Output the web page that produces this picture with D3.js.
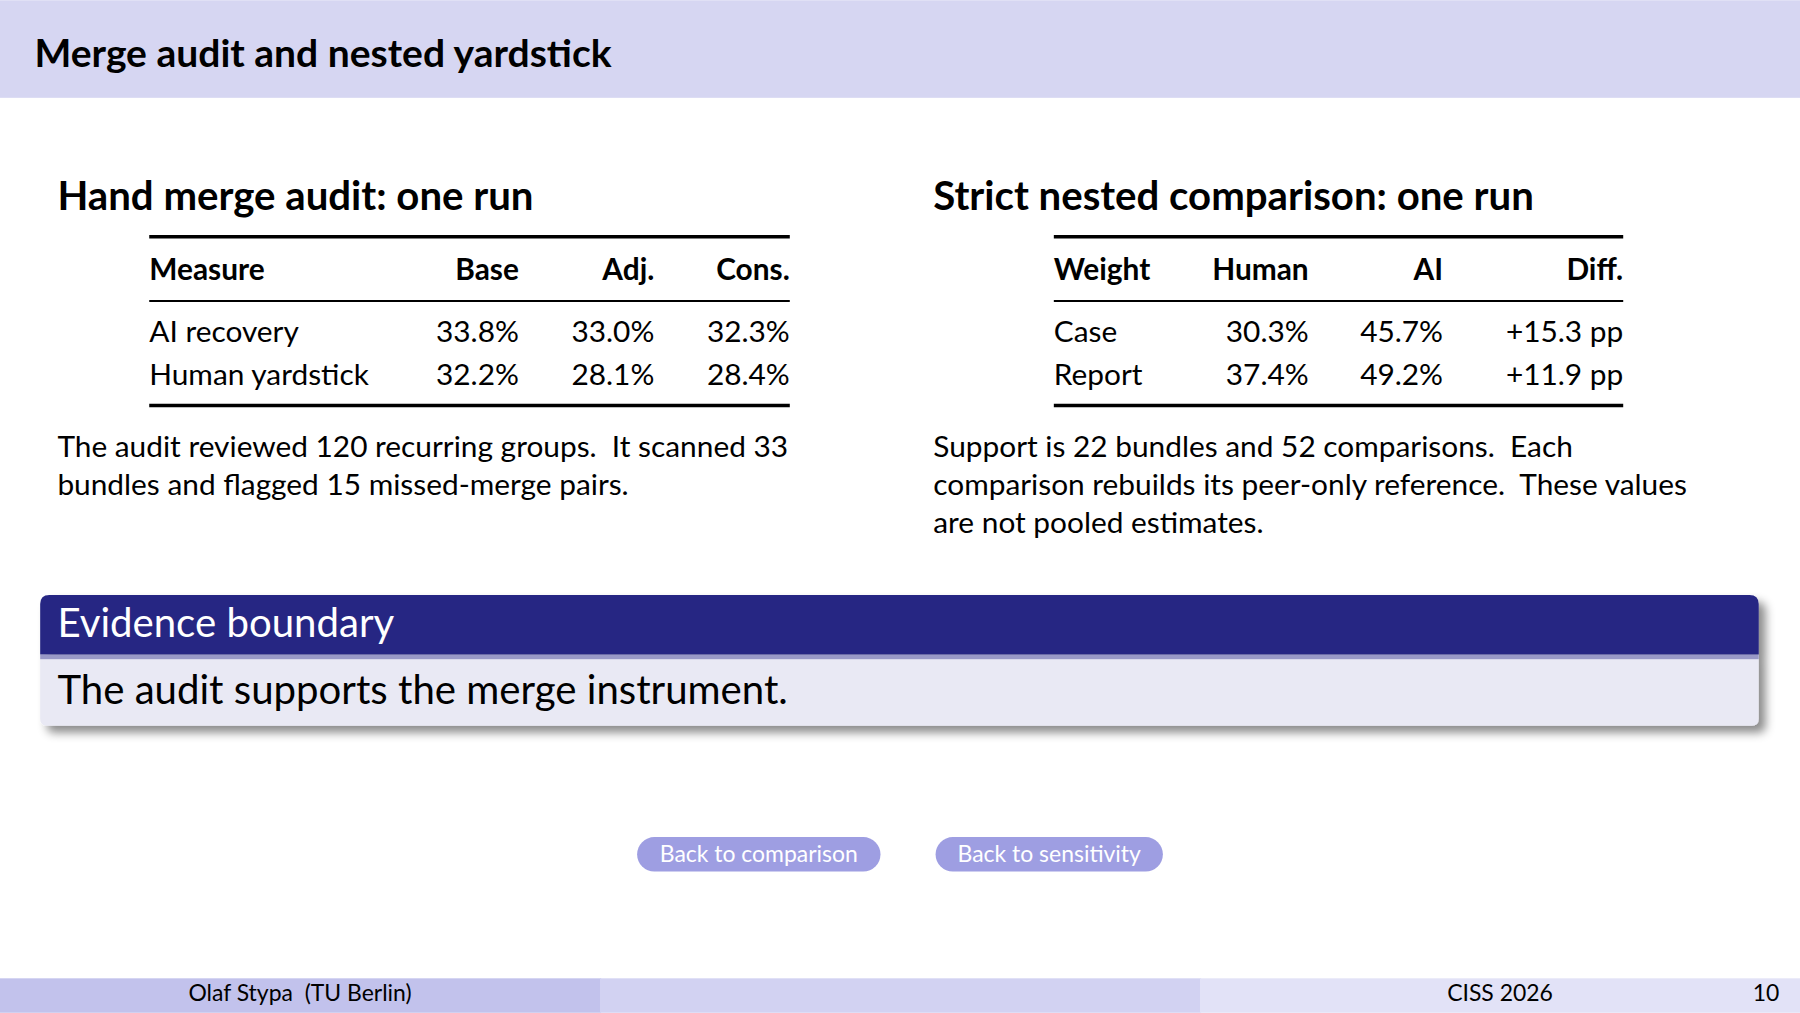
<!DOCTYPE html>
<html><head><meta charset="utf-8">
<script src="https://cdn.jsdelivr.net/npm/d3@7"></script>
<style>body{margin:0;background:#fff}svg{display:block;font-family:Lato,"DejaVu Sans",sans-serif}</style>
</head><body><svg id="s"></svg>
<script>
const leftCols = ["Measure", "Base", "Adj.", "Cons."];
const leftRows = [["AI recovery", "33.8%", "33.0%", "32.3%"], ["Human yardstick", "32.2%", "28.1%", "28.4%"]];
const rightCols = ["Weight", "Human", "AI", "Diff."];
const rightRows = [["Case", "30.3%", "45.7%", "+15.3 pp"], ["Report", "37.4%", "49.2%", "+11.9 pp"]];
const leftText = ["The audit reviewed 120 recurring groups.  It scanned 33", "bundles and flagged 15 missed-merge pairs."];
const rightText = ["Support is 22 bundles and 52 comparisons.  Each", "comparison rebuilds its peer-only reference.  These values", "are not pooled estimates."];
const buttons = ["Back to comparison", "Back to sensitivity"];
const footer = ["Olaf Stypa  (TU Berlin)", "", "CISS 2026"];

const W = 1568, H = 882;
const svg = d3.select("#s").attr("width", 1800).attr("height", 1013).attr("viewBox", `0 0 ${W} ${H}`);
const defs = svg.append("defs");
const f = defs.append("filter").attr("id", "sh").attr("x", "-5%").attr("y", "-20%").attr("width", "110%").attr("height", "150%");
f.append("feDropShadow").attr("dx", 6).attr("dy", 6).attr("stdDeviation", 4).attr("flood-color", "#000").attr("flood-opacity", 0.45);

svg.append("rect").attr("width", W).attr("height", 85).attr("fill", "#d6d6f2");
svg.append("text").attr("x", 30).attr("y", 58).attr("font-size", 34).attr("font-weight", "bold").attr("fill", "#000").text("Merge audit and nested yardstick");

function table(title, tx, x0, x1, colRight, cols, rows, para) {
  svg.append("text").attr("x", tx).attr("y", 183).attr("font-size", 35).attr("font-weight", "bold").text(title);
  const g = svg.append("g");
  g.append("line").attr("x1", x0).attr("x2", x1).attr("y1", 206).attr("y2", 206).attr("stroke", "#000").attr("stroke-width", 3);
  g.append("line").attr("x1", x0).attr("x2", x1).attr("y1", 262).attr("y2", 262).attr("stroke", "#000").attr("stroke-width", 1.8);
  g.append("line").attr("x1", x0).attr("x2", x1).attr("y1", 353).attr("y2", 353).attr("stroke", "#000").attr("stroke-width", 3);
  const xs = [x0].concat(colRight);
  const anchor = i => i === 0 ? "start" : "end";
  g.selectAll(".h").data(cols).join("text").attr("x", (d, i) => xs[i]).attr("y", 244)
    .attr("text-anchor", (d, i) => anchor(i)).attr("font-size", 26).attr("font-weight", "bold").text(d => d);
  const y = d3.scalePoint().domain(rows.map((r, i) => i)).range([298, 335]);
  rows.forEach((r, ri) => {
    g.selectAll(null).data(r).join("text").attr("x", (d, i) => xs[i]).attr("y", y(ri))
      .attr("text-anchor", (d, i) => anchor(i)).attr("font-size", 26).text(d => d);
  });
  svg.selectAll(null).data(para).join("text").attr("x", tx).attr("y", (d, i) => 398 + i * 33)
    .attr("font-size", 26).attr("xml:space", "preserve").text(d => d);
}
table("Hand merge audit:  one run", 50, 130, 688, [452, 570, 688], leftCols, leftRows, leftText);
table("Strict nested comparison:  one run", 813, 918, 1414, [1140, 1257, 1414], rightCols, rightRows, rightText);

// block
const b = svg.append("g").attr("filter", "url(#sh)");
b.append("path").attr("d", "M35,570 L35,626 Q35,632 41,632 L1526,632 Q1532,632 1532,626 L1532,570 Z").attr("fill", "#e9e9f4");
b.append("path").attr("d", "M35,570 L35,526 Q35,518 43,518 L1524,518 Q1532,518 1532,526 L1532,570 Z").attr("fill", "#262683");
svg.append("rect").attr("x", 35).attr("y", 570).attr("width", 1497).attr("height", 4).attr("fill", "#4a4a99").attr("opacity", 0.5);
svg.append("text").attr("x", 50).attr("y", 555).attr("font-size", 35).attr("fill", "#fff").text("Evidence boundary");
svg.append("text").attr("x", 50).attr("y", 613).attr("font-size", 35).attr("fill", "#000").text("The audit supports the merge instrument.");

// buttons
const bx = d3.scaleOrdinal().domain(buttons).range([[555, 767], [815, 1013]]);
const bg = svg.selectAll(".btn").data(buttons).join("g");
bg.append("rect").attr("x", d => bx(d)[0]).attr("y", 729).attr("width", d => bx(d)[1] - bx(d)[0]).attr("height", 30).attr("rx", 15).attr("fill", "#9e9ee2");
bg.append("text").attr("x", d => (bx(d)[0] + bx(d)[1]) / 2).attr("y", 751).attr("text-anchor", "middle").attr("font-size", 20).attr("fill", "#fff").text(d => d);

// footer
const fx = d3.scaleBand().domain(d3.range(3)).range([0, W]);
const fc = ["#c2c2ec", "#d2d2f2", "#e2e2f7"];
svg.selectAll(".ft").data(footer).join("rect").attr("x", (d, i) => fx(i)).attr("y", 852).attr("width", fx.bandwidth() + 1).attr("height", 30).attr("fill", (d, i) => fc[i]);
svg.selectAll(".ftt").data(footer).join("text").attr("x", (d, i) => fx(i) + fx.bandwidth() / 2).attr("y", 872).attr("text-anchor", "middle")
  .attr("font-size", 20).attr("xml:space", "preserve").text(d => d);
svg.append("text").attr("x", 1550).attr("y", 872).attr("text-anchor", "end").attr("font-size", 20).text("10");
</script></body></html>
